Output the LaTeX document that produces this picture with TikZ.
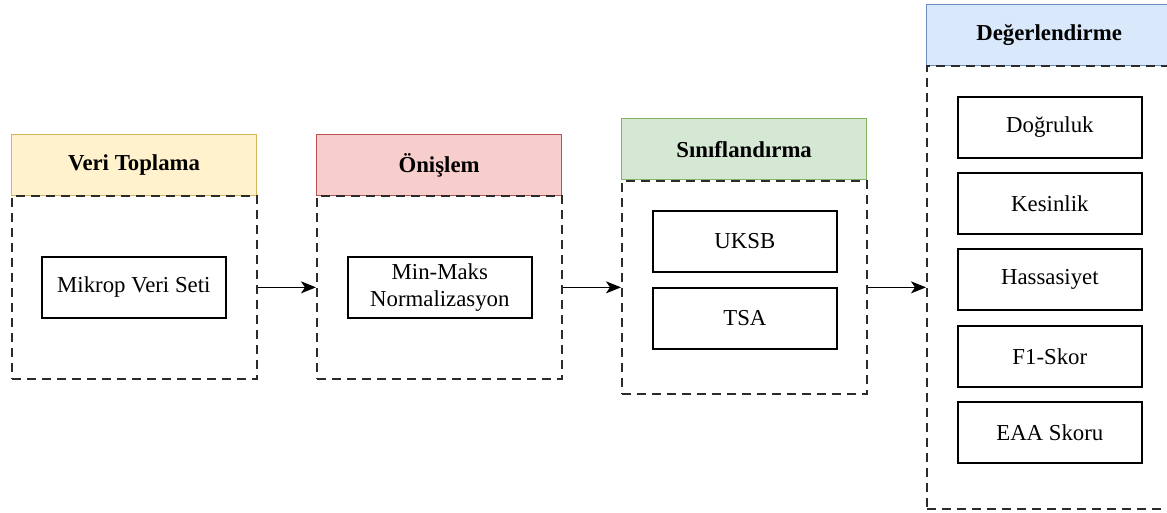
\documentclass[tikz,border=0pt]{standalone}
\usepackage{fontspec}
\setmainfont{Liberation Serif}
\newfontfamily\labelserif{Liberation Serif}
\usetikzlibrary{arrows.meta}

\definecolor{yfill}{HTML}{FFF2CC}\definecolor{ydraw}{HTML}{D6B656}
\definecolor{rfill}{HTML}{F8CECC}\definecolor{rdraw}{HTML}{B85450}
\definecolor{gfill}{HTML}{D5E8D4}\definecolor{gdraw}{HTML}{82B366}
\definecolor{bfill}{HTML}{DAE8FC}\definecolor{bdraw}{HTML}{6C8EBF}
\definecolor{dashgray}{HTML}{2B2B2B}

\tikzset{
  hdr/.style={rectangle, anchor=north west, line width=1.2pt,
    minimum width=245pt, minimum height=61pt, inner sep=0pt,
    font=\labelserif\fontsize{22.8}{26}\selectfont\bfseries},
  body/.style={rectangle, anchor=north west, draw=dashgray, line width=1.7pt,
    dash pattern=on 9pt off 6pt, inner sep=0pt, minimum width=245pt},
  item/.style={rectangle, anchor=north west, draw=black, line width=1.7pt,
    minimum width=184pt, minimum height=61pt, inner sep=0pt, align=center,
    font=\labelserif\fontsize{22.8}{27}\selectfont},
  flow/.style={line width=1.6pt, -{Stealth[length=15pt,width=12pt,inset=4pt]}}
}

\begin{document}
\begin{tikzpicture}[x=1pt,y=-1pt]
\clip (0,0) rectangle (1167,513);
\fill[white] (0,0) rectangle (1167,513);

% stage 1: data collection
\node[hdr, fill=yfill, draw=ydraw] (h1) at (11,134) {Veri Toplama};
\node[body, minimum height=183pt] (b1) at (11,195) {};
\node[item] (m1) at (41,256) {Mikrop Veri Seti};

% stage 2: preprocessing
\node[hdr, fill=rfill, draw=rdraw] (h2) at (316,134) {Önişlem};
\node[body, minimum height=183pt] (b2) at (316,195) {};
\node[item] (m2) at (347,256) {Min-Maks\\Normalizasyon};

% stage 3: classification
\node[hdr, fill=gfill, draw=gdraw] (h3) at (621,118) {Sınıflandırma};
\node[body, minimum height=213pt] (b3) at (621,180) {};
\node[item] (c1) at (652,210) {UKSB};
\node[item] (c2) at (652,287) {TSA};

% stage 4: evaluation
\node[hdr, fill=bfill, draw=bdraw] (h4) at (926,4) {Değerlendirme};
\node[body, minimum height=443pt] (b4) at (926,65) {};
\node[item] (e1) at (957,96) {Doğruluk};
\node[item] (e2) at (957,172) {Kesinlik};
\node[item] (e3) at (957,248) {Hassasiyet};
\node[item] (e4) at (957,325) {F1-Skor};
\node[item] (e5) at (957,401) {EAA Skoru};

% flow between stages
\draw[flow] (b1.east) -- (b2.west);
\draw[flow] (b2.east) -- (b3.west);
\draw[flow] (b3.east) -- (b4.west);
\end{tikzpicture}
\end{document}
